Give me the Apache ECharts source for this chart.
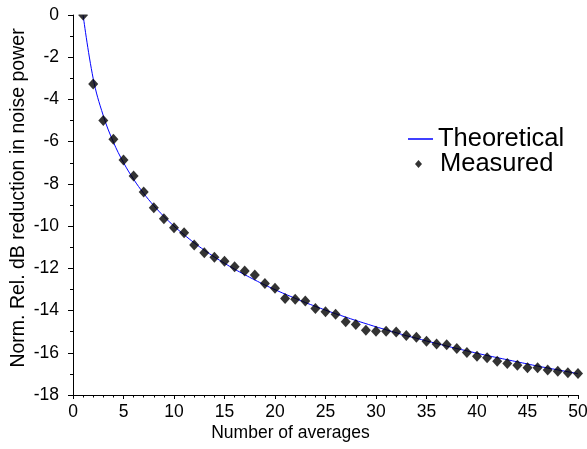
<!DOCTYPE html>
<html>
<head>
<meta charset="utf-8">
<script src="https://cdn.jsdelivr.net/npm/echarts@6/dist/echarts.min.js"></script>
<style>html,body{margin:0;padding:0;background:#fff;}#c{width:587px;height:449px;}</style>
</head>
<body>
<div id="c"></div>
<script>
var averages = [1,2,3,4,5,6,7,8,9,10,11,12,13,14,15,16,17,18,19,20,21,22,23,24,25,26,27,28,29,30,31,32,33,34,35,36,37,38,39,40,41,42,43,44,45,46,47,48,49,50];
var theoretical = [0,-3.01,-4.77,-6.02,-6.99,-7.78,-8.45,-9.03,-9.54,-10.00,-10.41,-10.79,-11.14,-11.46,-11.76,-12.04,-12.30,-12.55,-12.79,-13.01,-13.22,-13.42,-13.62,-13.80,-13.98,-14.15,-14.31,-14.47,-14.62,-14.77,-14.91,-15.05,-15.19,-15.31,-15.44,-15.56,-15.68,-15.80,-15.91,-16.02,-16.13,-16.23,-16.33,-16.43,-16.53,-16.63,-16.72,-16.81,-16.90,-16.99];
var measured = [0,-3.27,-5.00,-5.88,-6.87,-7.63,-8.39,-9.13,-9.65,-10.08,-10.32,-10.90,-11.26,-11.48,-11.66,-11.93,-12.13,-12.32,-12.72,-12.94,-13.43,-13.47,-13.55,-13.90,-14.06,-14.17,-14.53,-14.66,-14.93,-14.98,-14.98,-15.02,-15.18,-15.26,-15.45,-15.59,-15.62,-15.80,-15.99,-16.16,-16.24,-16.40,-16.51,-16.59,-16.71,-16.71,-16.82,-16.87,-16.95,-16.98];
var xTitle = 'Number of averages';
var yTitle = 'Norm. Rel. dB reduction in noise power';

var font = "'Liberation Sans', Arial, sans-serif";
var chart = echarts.init(document.getElementById('c'), null, {renderer:'canvas'});
function pairs(xs, ys){ return xs.map(function(x,i){ return [x, ys[i]]; }); }
chart.setOption({
  animation: false,
  backgroundColor: '#fff',
  textStyle: {fontFamily: font},
  grid: {left: 73, right: 9, top: 15, bottom: 54, containLabel: false, outerBoundsMode: 'none'},
  legend: [
    {data: [{name:'Theoretical', icon:'rect'}], left: 403, top: 121, itemWidth: 25, itemHeight: 1.5, orient:'vertical',
     textStyle:{fontSize: 25.5, color:'#000', fontFamily: font, padding:[0,0,0,0]}},
    {data: [{name:'Measured', icon:'diamond'}], left: 410, top: 146, itemWidth: 7, itemHeight: 8, orient:'vertical',
     textStyle:{fontSize: 25.5, color:'#000', fontFamily: font, padding:[0,0,0,13]}}
  ],
  xAxis: {
    type: 'value', min: 0, max: 50, interval: 5,
    name: xTitle, nameLocation: 'middle', nameGap: 29, nameMoveOverlap: false,
    nameTextStyle: {fontSize: 17.5, color:'#000', fontFamily: font, padding:[0,70,0,0]},
    axisLine: {show: true, onZero: false, lineStyle: {color:'#000', width: 1}},
    axisTick: {show: true, length: 4, lineStyle:{color:'#000'}},
    minorTick: {show: true, splitNumber: 5, length: 2.5, lineStyle:{color:'#000'}},
    splitLine: {show: false},
    axisLabel: {fontSize: 17.5, color:'#000', margin: 8, fontFamily: font}
  },
  yAxis: {
    type: 'value', min: -18, max: 0, interval: 2,
    name: yTitle, nameLocation: 'middle', nameGap: 44, nameRotate: 90, nameMoveOverlap: false,
    nameTextStyle: {fontSize: 19.5, color:'#000', fontFamily: font, padding:[0,0,0,14]},
    axisLine: {show: true, onZero: false, lineStyle: {color:'#000', width: 1}},
    axisTick: {show: true, length: 5, lineStyle:{color:'#000'}},
    minorTick: {show: true, splitNumber: 2, length: 3, lineStyle:{color:'#000'}},
    splitLine: {show: false},
    axisLabel: {fontSize: 17.5, color:'#000', margin: 14, fontFamily: font}
  },
  series: [
    {name:'Theoretical', type:'line', data: pairs(averages, theoretical), smooth: 0.4, showSymbol: false, symbol:'none',
     lineStyle:{color:'#0000ff', width: 1}, itemStyle:{color:'#0000ff'}, z: 2, clip: true},
    {name:'Measured', type:'scatter', data: pairs(averages, measured), symbol:'diamond', symbolSize: [10,11],
     itemStyle:{color:'#000'}, clip: true, z: 3}
  ],
  graphic: [
    {type:'rect', left: 75, top: 0, shape:{width: 512, height: 14.5}, style:{fill:'#fff'}, z: 100, silent: true}
  ]
});
</script>
</body>
</html>
